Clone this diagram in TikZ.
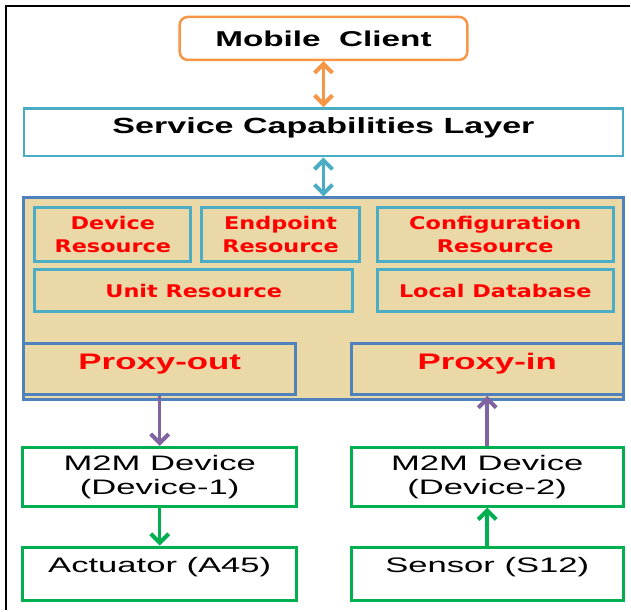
\documentclass[tikz,border=0pt]{standalone}
\usepackage{fontspec}
\usepackage{tikz}
\usetikzlibrary{arrows.meta}
\usetikzlibrary{positioning}

\newfontfamily\headfont[FakeStretch=1.55]{Liberation Sans}
\newfontfamily\resfont[FakeStretch=1.28]{DejaVu Sans}
\newfontfamily\devfont[FakeStretch=1.65]{Liberation Sans}

\definecolor{clientorange}{RGB}{247,150,70}
\definecolor{layerblue}{RGB}{75,172,198}
\definecolor{gwblue}{RGB}{79,129,189}
\definecolor{linkpurple}{RGB}{128,100,162}
\definecolor{devgreen}{RGB}{0,176,80}
\definecolor{papyrus}{RGB}{234,216,166}

\begin{document}
\begin{tikzpicture}[x=1pt,y=-1pt,>={Straight Barb[length=9pt,width=18pt,line width=4pt]},
	box/.style={draw, rectangle, inner sep=0pt, align=center},
	client node/.style={box, draw=clientorange, line width=2.5pt, rounded corners=8pt, minimum width=288pt, minimum height=43pt, font=\headfont\bfseries\fontsize{21.5}{25}\selectfont},
	layer node/.style={box, draw=layerblue, line width=2.5pt, minimum width=600pt, minimum height=48pt, text height=15pt, text depth=12pt, font=\headfont\bfseries\fontsize{22}{25}\selectfont},
	gw node/.style={box, draw=gwblue, line width=3pt},
	res node/.style={box, draw=layerblue, line width=3pt, text=red, font=\resfont\bfseries\fontsize{17.5}{22.5}\selectfont},
	proxy node/.style={gw node, minimum width=272pt, minimum height=51pt, text=red, text height=17pt, text depth=15pt, font=\headfont\bfseries\fontsize{22.5}{26}\selectfont},
	dev node/.style={box, draw=devgreen, line width=3pt, minimum width=274pt, font=\devfont\fontsize{21}{24}\selectfont}]
	
	% frame
	\draw[line width=2pt] (6,611) -- (6,6) -- (631,6);
	\useasboundingbox (0,0) rectangle (631,611);
	
	% Nodes
	\node[client node] (1) at (324,38.5) {Mobile\ \ Client};
	\node[layer node] (2) [below=46pt of 1] {Service Capabilities Layer};
	\node[gw node, fill=papyrus, minimum width=600pt, minimum height=202pt] (3) [below=39pt of 2] {};
	
	\node[res node, minimum width=156pt, minimum height=54pt] (4) at (113,235) {Device\\Resource};
	\node[res node, minimum width=158pt, minimum height=54pt] (5) at (281,235) {Endpoint\\Resource};
	\node[res node, minimum width=236pt, minimum height=54pt] (6) at (496,235) {Configuration\\Resource};
	\node[res node, minimum width=318pt, minimum height=42pt] (7) at (194,291) {Unit Resource};
	\node[res node, minimum width=236pt, minimum height=42pt] (8) at (496,291) {Local Database};
	
	\node[proxy node] (9) at (160,369.5) {Proxy-out};
	\node[proxy node] (10) at (488,369.5) {Proxy-in};
	
	\node[dev node, minimum height=59pt] (11) at (160,477.5) {M2M Device\\(Device-1)};
	\node[dev node, minimum height=53pt, text height=15pt, text depth=18pt] (12) [below=38pt of 11] {Actuator (A45)};
	\node[dev node, minimum height=59pt, minimum width=272pt] (13) at (488,477.5) {M2M Device\\(Device-2)};
	\node[dev node, minimum height=53pt, minimum width=272pt, text height=15pt, text depth=18pt] (14) [below=38pt of 13] {Sensor (S12)};
	
	\path[line width=3.5pt]
	(1) edge[clientorange, <->] (2)
	(2) edge[layerblue, <->] (3)
	
	(9) edge[linkpurple, ->] (11)
	(13) edge[linkpurple, ->] (10)
	
	(11) edge[devgreen, ->] (12)
	(14) edge[devgreen, ->] (13);
	
\end{tikzpicture}
\end{document}
